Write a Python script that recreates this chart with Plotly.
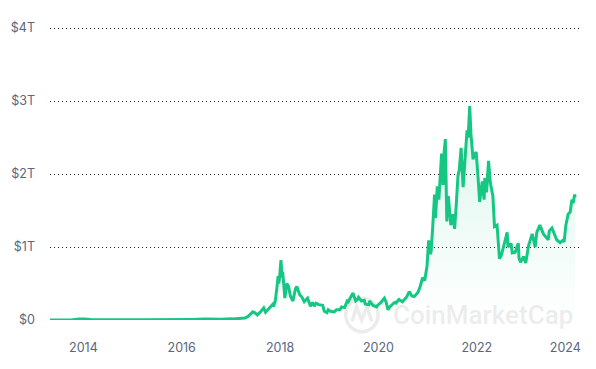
import plotly.graph_objects as go

# Total crypto market cap (USD trillions)
dates = [
    "2013-04-28", "2013-07-05", "2013-10-01", "2013-11-30", "2013-12-18", "2014-01-05",
    "2014-02-25", "2014-04-10", "2014-06-05", "2014-08-20", "2014-10-05", "2014-12-15",
    "2015-01-14", "2015-03-10", "2015-06-15", "2015-08-25", "2015-11-04", "2016-01-15",
    "2016-03-15", "2016-06-17", "2016-08-03", "2016-10-25", "2016-12-31", "2017-01-11",
    "2017-02-28", "2017-03-24", "2017-04-15", "2017-05-05", "2017-05-25", "2017-06-12",
    "2017-06-28", "2017-07-16", "2017-08-05", "2017-09-01", "2017-09-15", "2017-10-05",
    "2017-10-20", "2017-11-07", "2017-11-13", "2017-11-26", "2017-12-08", "2017-12-17",
    "2017-12-22", "2017-12-28", "2018-01-07", "2018-01-16", "2018-01-20", "2018-02-05",
    "2018-02-20", "2018-03-05", "2018-03-18", "2018-04-06", "2018-04-25", "2018-05-05",
    "2018-05-28", "2018-06-10", "2018-06-29", "2018-07-24", "2018-08-14", "2018-08-30",
    "2018-09-12", "2018-09-25", "2018-10-15", "2018-11-13", "2018-11-25", "2018-12-15",
    "2018-12-24", "2019-01-10", "2019-02-06", "2019-02-24", "2019-03-20", "2019-04-03",
    "2019-04-25", "2019-05-14", "2019-05-22", "2019-06-26", "2019-07-16", "2019-07-29",
    "2019-08-06", "2019-08-28", "2019-09-18", "2019-09-25", "2019-10-22", "2019-10-27",
    "2019-11-22", "2019-12-18", "2019-12-25", "2020-01-20", "2020-02-14", "2020-02-28",
    "2020-03-12", "2020-03-25", "2020-04-29", "2020-05-10", "2020-06-01", "2020-06-27",
    "2020-07-27", "2020-08-17", "2020-09-05", "2020-09-23", "2020-10-21", "2020-11-06",
    "2020-11-24", "2020-12-10", "2020-12-27", "2021-01-08", "2021-01-22", "2021-01-27",
    "2021-02-08", "2021-02-21", "2021-02-28", "2021-03-13", "2021-03-25", "2021-04-03",
    "2021-04-14", "2021-04-25", "2021-05-03", "2021-05-12", "2021-05-19", "2021-05-23",
    "2021-06-03", "2021-06-22", "2021-07-08", "2021-07-20", "2021-08-01", "2021-08-14",
    "2021-08-23", "2021-09-06", "2021-09-21", "2021-10-01", "2021-10-20", "2021-10-28",
    "2021-11-09", "2021-11-18", "2021-12-04", "2021-12-12", "2021-12-27", "2022-01-10",
    "2022-01-22", "2022-02-10", "2022-02-24", "2022-03-01", "2022-03-14", "2022-03-29",
    "2022-04-11", "2022-04-30", "2022-05-12", "2022-05-31", "2022-06-13", "2022-06-18",
    "2022-07-01", "2022-07-28", "2022-08-14", "2022-08-20", "2022-09-12", "2022-09-21",
    "2022-10-13", "2022-10-29", "2022-11-05", "2022-11-10", "2022-11-21", "2022-12-14",
    "2022-12-30", "2023-01-20", "2023-02-16", "2023-03-10", "2023-03-22", "2023-04-14",
    "2023-05-10", "2023-06-15", "2023-06-23", "2023-07-13", "2023-08-17", "2023-09-11",
    "2023-09-30", "2023-10-11", "2023-10-24", "2023-11-10", "2023-11-25", "2023-12-08",
    "2023-12-17", "2023-12-28", "2024-01-01",
]
market_cap_t = [
    0.0015, 0.0009, 0.0017, 0.014, 0.008, 0.012,
    0.008, 0.006, 0.009, 0.007, 0.004, 0.0048,
    0.0025, 0.0042, 0.0035, 0.0032, 0.006, 0.0057,
    0.008, 0.012, 0.0095, 0.011, 0.0175, 0.015,
    0.021, 0.023, 0.028, 0.045, 0.088, 0.112,
    0.098, 0.070, 0.105, 0.165, 0.105, 0.145,
    0.185, 0.215, 0.185, 0.260, 0.440, 0.600,
    0.500, 0.580, 0.820, 0.580, 0.660, 0.300,
    0.500, 0.460, 0.330, 0.260, 0.430, 0.460,
    0.340, 0.320, 0.250, 0.300, 0.190, 0.240,
    0.190, 0.230, 0.210, 0.200, 0.120, 0.100,
    0.140, 0.120, 0.110, 0.140, 0.140, 0.180,
    0.170, 0.260, 0.250, 0.370, 0.260, 0.280,
    0.310, 0.260, 0.270, 0.220, 0.210, 0.260,
    0.200, 0.180, 0.200, 0.240, 0.300, 0.240,
    0.140, 0.180, 0.240, 0.230, 0.280, 0.250,
    0.310, 0.390, 0.330, 0.320, 0.380, 0.460,
    0.580, 0.540, 0.740, 1.090, 0.900, 0.950,
    1.300, 1.720, 1.400, 1.830, 1.650, 2.000,
    2.280, 1.850, 2.300, 2.480, 1.600, 1.350,
    1.700, 1.300, 1.450, 1.250, 1.580, 1.980,
    2.050, 2.360, 1.820, 2.100, 2.600, 2.500,
    2.930, 2.550, 2.200, 2.270, 2.300, 1.950,
    1.620, 1.900, 1.650, 1.950, 1.750, 2.180,
    1.880, 1.700, 1.280, 1.300, 0.950, 0.840,
    0.880, 1.080, 1.200, 1.000, 1.050, 0.920,
    0.930, 1.020, 1.050, 0.850, 0.790, 0.870,
    0.780, 1.020, 1.180, 1.000, 1.200, 1.300,
    1.180, 1.100, 1.220, 1.260, 1.100, 1.060,
    1.090, 1.070, 1.300, 1.450, 1.480, 1.650,
    1.600, 1.720, 1.680,
]

y_tick_vals = [0, 1, 2, 3, 4]
y_tick_text = ["$0", "$1T", "$2T", "$3T", "$4T"]
x_tick_vals = ["2014-01-01", "2016-01-01", "2018-01-01", "2020-01-01", "2022-01-01", "2023-10-20"]
x_tick_text = ["2014", "2016", "2018", "2020", "2022", "2024"]

GREEN = "#16c784"
LABEL = "#58667e"
WM = "rgba(170,170,170,0.22)"

fig = go.Figure()
fig.add_trace(go.Scatter(
    x=dates, y=market_cap_t, mode="lines",
    line=dict(color=GREEN, width=3),
    fill="tozeroy",
    fillgradient=dict(type="vertical",
                      colorscale=[[0, "rgba(22,199,132,0.0)"], [1, "rgba(22,199,132,0.16)"]]),
    hoverinfo="skip", showlegend=False,
))

# the page body adds an 8px offset, so the figure is 8px smaller than the window
fig.update_layout(
    width=588, height=361,
    margin=dict(l=42, r=16, t=19, b=49, autoexpand=False),
    paper_bgcolor="white", plot_bgcolor="white",
    font=dict(family="Inter, Roboto, sans-serif", size=12, color=LABEL),
    xaxis=dict(
        type="date", range=["2013-04-28", "2024-02-06"],
        tickvals=x_tick_vals, ticktext=x_tick_text,
        showgrid=False, zeroline=False, showline=False,
        ticks="", ticklabelstandoff=18,
        tickfont=dict(size=12.5, color=LABEL),
    ),
    yaxis=dict(
        range=[0, 4.015], tickvals=y_tick_vals, ticktext=y_tick_text,
        showgrid=True, gridcolor="#222222", gridwidth=1, griddash="1px,3px",
        zeroline=False, showline=False, ticks="", ticklabelstandoff=14,
        tickfont=dict(size=12.5, color=LABEL),
    ),
    shapes=[
        dict(type="circle", xref="paper", yref="paper", layer="below",
             x0=0.558, x1=0.619, y0=-0.040, y1=0.075,
             line=dict(color=WM, width=3.5)),
        dict(type="path", xref="paper", yref="paper", layer="below",
             path="M 0.570 -0.005 L 0.578 0.045 L 0.588 0.000 L 0.598 0.045 L 0.607 -0.005",
             line=dict(color=WM, width=3.5)),
    ],
    annotations=[
        dict(text="CoinMarketCap", xref="paper", yref="paper",
             x=0.817, y=0.017, xanchor="center", yanchor="middle",
             showarrow=False,
             font=dict(family="Roboto, sans-serif", size=26, color=WM, weight=500)),
    ],
)

fig.write_html("out.html")
